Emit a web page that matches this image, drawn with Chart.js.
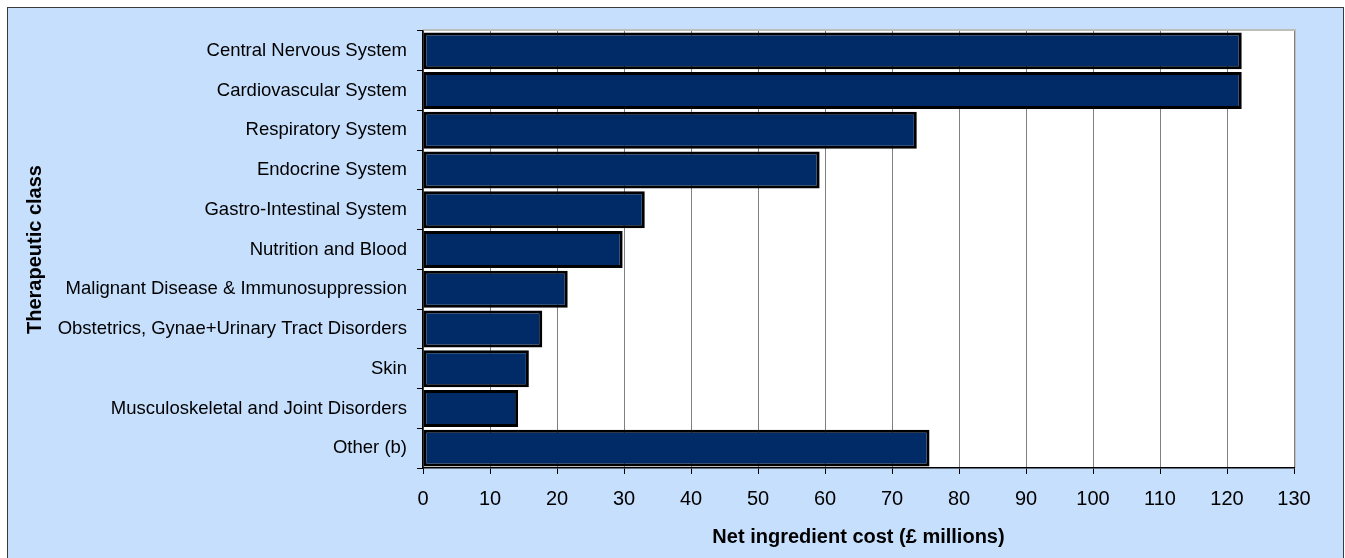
<!DOCTYPE html>
<html>
<head>
<meta charset="utf-8">
<script src="https://cdn.jsdelivr.net/npm/chart.js@4/dist/chart.umd.min.js"></script>
<style>
  html, body { margin: 0; padding: 0; background: #fff; overflow: hidden; }
  #frame {
    position: absolute; left: 7px; top: 7px; width: 1335px; height: 600px;
    background: #C6DFFC; border: 1px solid #3a3a3a;
  }
  #chart { position: absolute; left: 0; top: 0; }
</style>
</head>
<body>
<div id="frame"></div>
<canvas id="chart" width="1345" height="558"></canvas>
<script>
// Data
var categories = [
  'Central Nervous System',
  'Cardiovascular System',
  'Respiratory System',
  'Endocrine System',
  'Gastro-Intestinal System',
  'Nutrition and Blood',
  'Malignant Disease & Immunosuppression',
  'Obstetrics, Gynae+Urinary Tract Disorders',
  'Skin',
  'Musculoskeletal and Joint Disorders',
  'Other (b)'
];
var netCost = [122.2, 122.2, 73.7, 59.2, 33.1, 29.8, 21.6, 17.8, 15.8, 14.2, 75.6];
var xMin = 0;
var xMax = 130;
var xStep = 10;

var font = "'Liberation Sans', Arial, sans-serif";

// white plot area with grey edge on top and right
var plotBack = {
  id: 'plotBack',
  beforeDraw: function (chart) {
    var a = chart.chartArea, ctx = chart.ctx;
    ctx.save();
    ctx.fillStyle = '#ffffff';
    ctx.fillRect(a.left, a.top, a.right - a.left, a.bottom - a.top);
    ctx.strokeStyle = '#bdbdbd';
    ctx.lineWidth = 2;
    ctx.beginPath();
    ctx.moveTo(a.left, a.top - 1);
    ctx.lineTo(a.right + 1, a.top - 1);
    ctx.lineTo(a.right + 1, a.bottom);
    ctx.stroke();
    ctx.restore();
  }
};

var costChart = new Chart(document.getElementById('chart'), {
  type: 'bar',
  data: {
    labels: categories,
    datasets: [{
      data: netCost,
      backgroundColor: '#002B66',
      borderColor: '#000000',
      borderWidth: 3,
      borderSkipped: false,
      barPercentage: 0.93,
      categoryPercentage: 1
    }]
  },
  options: {
    indexAxis: 'y',
    responsive: false,
    animation: false,
    layout: { padding: { top: 31, right: 51, left: 0, bottom: 0 } },
    plugins: {
      legend: { display: false },
      tooltip: { enabled: false }
    },
    scales: {
      x: {
        min: xMin,
        max: xMax,
        afterFit: function (scale) { scale.height = 90; },
        ticks: {
          stepSize: xStep,
          color: '#000',
          padding: 13,
          maxRotation: 0,
          font: { family: font, size: 20 }
        },
        grid: {
          color: '#808080',
          tickColor: '#000',
          tickLength: 6,
          lineWidth: 1
        },
        border: { color: '#000', width: 1.5 },
        title: {
          display: true,
          text: 'Net ingredient cost (£ millions)',
          color: '#000',
          padding: { top: 0, bottom: 9 },
          font: { family: font, size: 20, weight: 'bold' }
        }
      },
      y: {
        afterFit: function (scale) { scale.width = 423; },
        ticks: {
          color: '#000',
          padding: 10,
          autoSkip: false,
          font: { family: font, size: 18.5 }
        },
        grid: {
          drawOnChartArea: false,
          color: '#000',
          tickLength: 6
        },
        border: { color: '#000', width: 1.5 },
        title: {
          display: true,
          text: 'Therapeutic class',
          color: '#000',
          padding: { top: 23, bottom: 0 },
          font: { family: font, size: 20, weight: 'bold' }
        }
      }
    }
  },
  plugins: [plotBack]
});
</script>
</body>
</html>
